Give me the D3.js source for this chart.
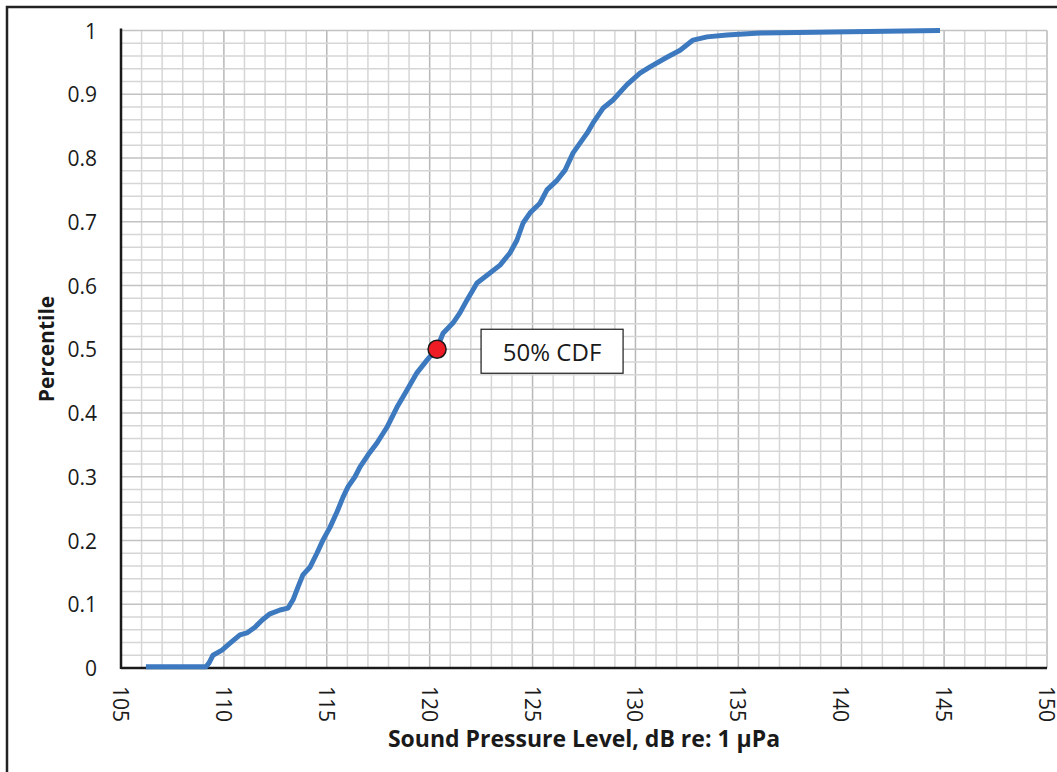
<!DOCTYPE html>
<html>
<head>
<meta charset="utf-8">
<script src="https://cdn.jsdelivr.net/npm/d3@7"></script>
<style>
  body { margin: 0; background: #fff; }
  svg { display: block; font-family: "Open Sans", sans-serif; }
</style>
</head>
<body>
<svg id="chart" width="1057" height="772"></svg>
<script>
// Sound pressure level (dB re 1 uPa) and cumulative percentile
var splDb = [106.21, 109.13, 109.28, 109.47, 109.91, 110.30, 110.78, 111.12, 111.51, 111.85,
    112.24, 112.73, 113.12, 113.36, 113.60, 113.84, 114.18, 114.52, 114.82, 115.16,
    115.50, 115.79, 116.03, 116.37, 116.61, 117.00, 117.44, 117.93, 118.41, 118.90,
    119.38, 119.87, 120.36, 120.65, 121.13, 121.47, 121.81, 122.30, 122.79, 123.42,
    123.90, 124.24, 124.54, 124.88, 125.36, 125.70, 126.19, 126.58, 126.97, 127.65,
    127.94, 128.42, 128.91, 129.59, 130.22, 130.71, 131.53, 132.17, 132.80, 133.48,
    134.45, 136.05, 140.43, 144.80];
var cdfPct = [0.002, 0.002, 0.008, 0.020, 0.028, 0.039, 0.052, 0.055, 0.064, 0.075,
    0.085, 0.091, 0.094, 0.107, 0.127, 0.146, 0.158, 0.180, 0.201, 0.221,
    0.245, 0.268, 0.284, 0.300, 0.315, 0.334, 0.353, 0.378, 0.409, 0.436,
    0.463, 0.483, 0.502, 0.525, 0.541, 0.557, 0.577, 0.604, 0.616, 0.632,
    0.651, 0.671, 0.698, 0.714, 0.729, 0.750, 0.765, 0.781, 0.808, 0.839,
    0.855, 0.878, 0.891, 0.915, 0.933, 0.943, 0.958, 0.969, 0.985, 0.990,
    0.993, 0.996, 0.998, 1.0];

// the 50% point that gets the red marker
var medianDb = 120.36;
var medianPct = 0.5;
var medianLabel = "50% CDF";

var xTickVals = [105, 110, 115, 120, 125, 130, 135, 140, 145, 150];
var yTickVals = [0, 0.1, 0.2, 0.3, 0.4, 0.5, 0.6, 0.7, 0.8, 0.9, 1];
var xTitle = "Sound Pressure Level, dB re: 1 \u03bcPa";
var yTitle = "Percentile";

var svg = d3.select("#chart");
var plotLeft = 121, plotRight = 1047, plotTop = 30.5, plotBottom = 668;

var x = d3.scaleLinear().domain([105, 150]).range([plotLeft, plotRight]);
var y = d3.scaleLinear().domain([0, 1]).range([plotBottom, plotTop]);

//Outer frame of the figure, runs off the right and bottom edges
svg.append("rect")
    .attr("x", 7).attr("y", 7)
    .attr("width", 1100).attr("height", 800)
    .attr("fill", "none")
    .attr("stroke", "#222")
    .attr("stroke-width", 2.5);

var grid = svg.append("g");

//minor grid: every 1 dB and every 0.02
d3.range(105, 151, 1).forEach(function (v) {
    grid.append("line")
        .attr("x1", x(v)).attr("x2", x(v))
        .attr("y1", plotTop).attr("y2", plotBottom)
        .attr("stroke", v % 5 == 0 ? "#b8b8b8" : "#d6d6d6")
        .attr("stroke-width", 1.5);
});
d3.range(0, 51, 1).forEach(function (k) {
    var v = k * 0.02;
    grid.append("line")
        .attr("x1", plotLeft).attr("x2", plotRight)
        .attr("y1", y(v)).attr("y2", y(v))
        .attr("stroke", k % 5 == 0 ? "#c2c2c2" : "#d6d6d6")
        .attr("stroke-width", 1.5);
});

//axis lines
svg.append("line")
    .attr("x1", plotLeft).attr("x2", plotLeft)
    .attr("y1", plotTop - 2).attr("y2", plotBottom + 1)
    .attr("stroke", "#1a1a1a").attr("stroke-width", 2.5);
svg.append("line")
    .attr("x1", plotLeft).attr("x2", plotRight)
    .attr("y1", plotBottom).attr("y2", plotBottom)
    .attr("stroke", "#1a1a1a").attr("stroke-width", 2.5);

//tick labels
svg.append("g").selectAll("text")
    .data(yTickVals)
    .enter().append("text")
    .attr("x", 97)
    .attr("y", function (d) { return y(d); })
    .attr("text-anchor", "end")
    .attr("dominant-baseline", "central")
    .style("font-size", "21px")
    .style("fill", "#1a1a1a")
    .text(function (d) { return d3.format("~g")(d); });

svg.append("g").selectAll("text")
    .data(xTickVals)
    .enter().append("text")
    .attr("transform", function (d) {
        return "translate(" + x(d) + "," + 686 + ") rotate(90)";
    })
    .attr("text-anchor", "start")
    .attr("dominant-baseline", "central")
    .style("font-size", "21px")
    .style("fill", "#1a1a1a")
    .text(function (d) { return d; });

//axis titles
svg.append("text")
    .attr("x", 584)
    .attr("y", 747)
    .attr("text-anchor", "middle")
    .style("font-size", "23px")
    .style("font-weight", "700")
    .style("fill", "#1a1a1a")
    .text(xTitle);

svg.append("text")
    .attr("transform", "translate(46,349) rotate(-90)")
    .attr("text-anchor", "middle")
    .attr("dominant-baseline", "central")
    .style("font-size", "21px")
    .style("font-weight", "700")
    .style("fill", "#1a1a1a")
    .text(yTitle);

//CDF curve
var pts = splDb.map(function (d, i) { return [d, cdfPct[i]]; });
var line = d3.line()
    .x(function (d) { return x(d[0]); })
    .y(function (d) { return y(d[1]); });

svg.append("path")
    .datum(pts)
    .attr("d", line)
    .attr("fill", "none")
    .attr("stroke", "#3d79bf")
    .attr("stroke-width", 5)
    .attr("stroke-linejoin", "round")
    .attr("stroke-linecap", "butt");

//50% marker and its label box
svg.append("circle")
    .attr("cx", x(medianDb))
    .attr("cy", y(medianPct))
    .attr("r", 9)
    .attr("fill", "#ee1c25")
    .attr("stroke", "#1a1a1a")
    .attr("stroke-width", 1.5);

var boxX = x(medianDb) + 44;
svg.append("rect")
    .attr("x", boxX)
    .attr("y", y(medianPct) - 20)
    .attr("width", 142)
    .attr("height", 44)
    .attr("fill", "#fff")
    .attr("stroke", "#1a1a1a")
    .attr("stroke-width", 1.2);
svg.append("text")
    .attr("x", boxX + 71)
    .attr("y", y(medianPct) + 2)
    .attr("text-anchor", "middle")
    .attr("dominant-baseline", "central")
    .style("font-size", "24px")
    .style("fill", "#1a1a1a")
    .text(medianLabel);
</script>
</body>
</html>
